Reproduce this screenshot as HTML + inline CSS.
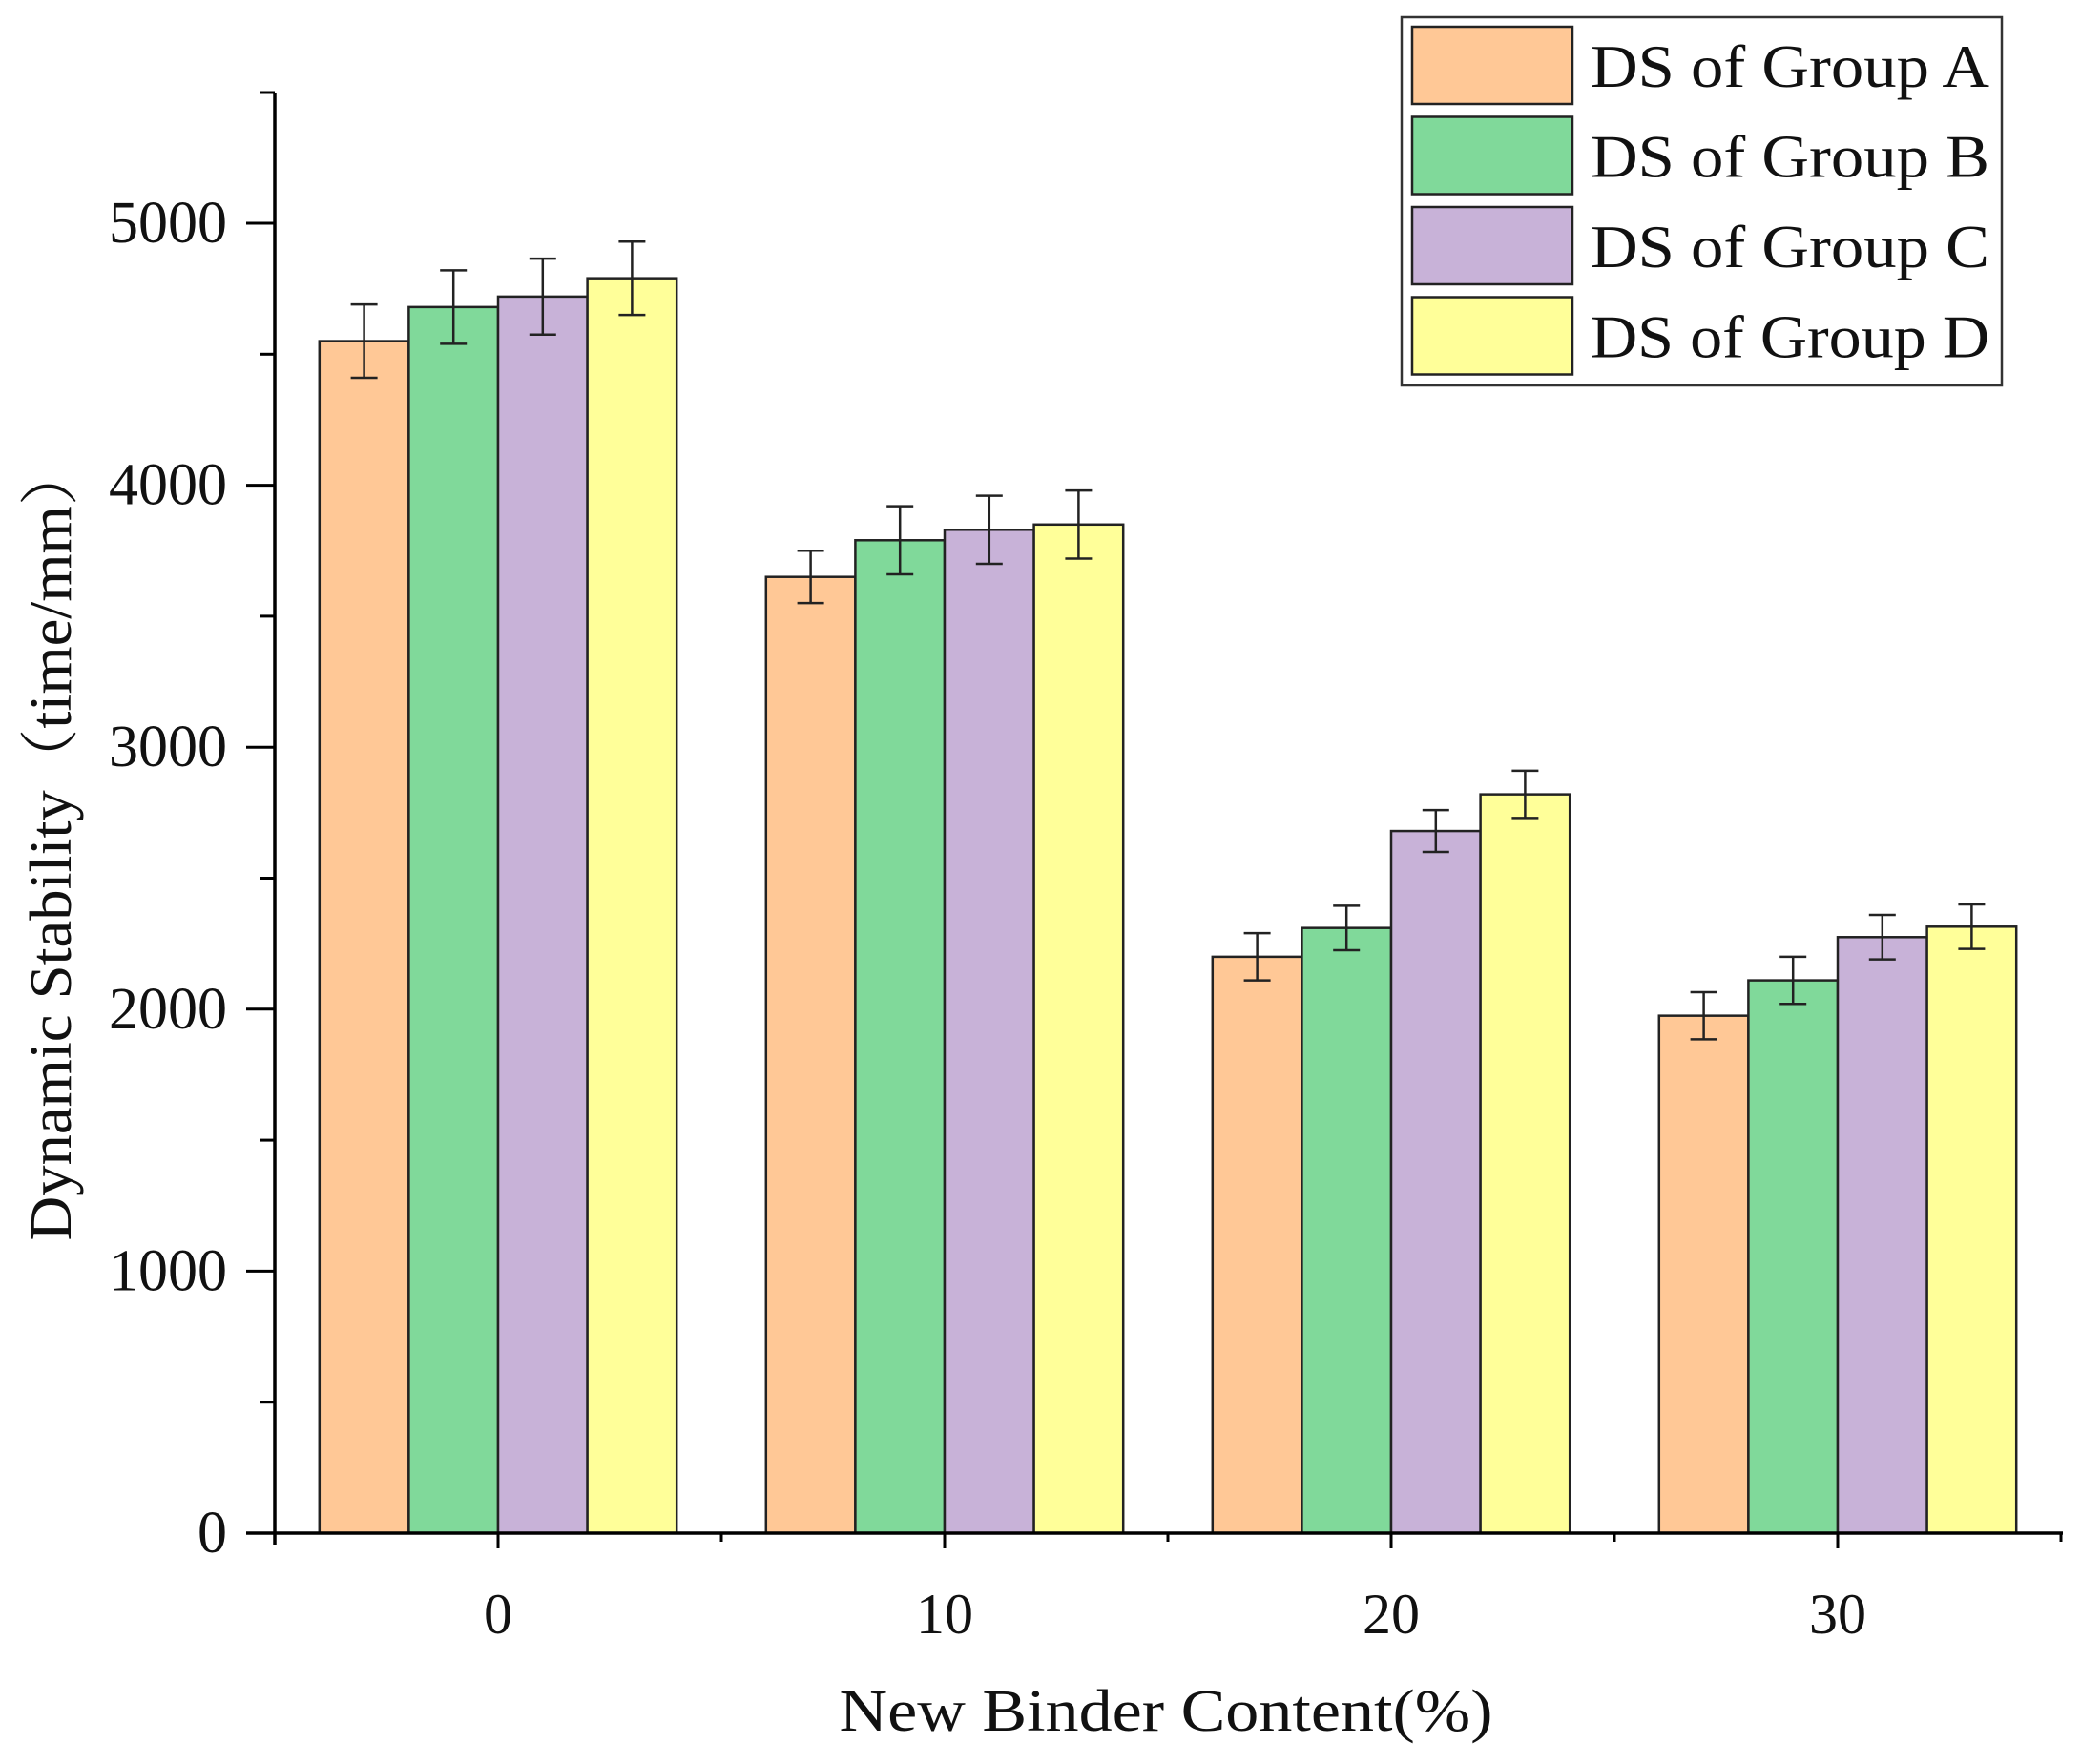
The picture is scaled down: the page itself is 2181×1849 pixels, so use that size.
<!DOCTYPE html>
<html><head><meta charset="utf-8"><style>
html,body{margin:0;padding:0;background:#fff;}
svg{display:block;font-family:"Liberation Serif",serif;}
</style></head><body>
<svg id="chart" width="2181" height="1849" viewBox="0 0 2181 1849" xmlns="http://www.w3.org/2000/svg">
<g id="bars"></g>
<g id="axes"></g>
<g id="legend"></g>
</svg>
<script>
const categories = ["0","10","20","30"];
const seriesNames = ["DS of Group A","DS of Group B","DS of Group C","DS of Group D"];
const seriesA = [4550, 3650, 2200, 1975];
const seriesB = [4680, 3790, 2310, 2110];
const seriesC = [4720, 3830, 2680, 2275];
const seriesD = [4790, 3850, 2820, 2315];
const errA = [140, 100, 90, 90];
const errB = [140, 130, 85, 90];
const errC = [145, 130, 80, 85];
const errD = [140, 130, 90, 85];
const yTicks = [0, 1000, 2000, 3000, 4000, 5000];
const colors = ["#FFC896", "#80D99A", "#C8B2D8", "#FFFF99"];

const NS = "http://www.w3.org/2000/svg";
const series = [seriesA, seriesB, seriesC, seriesD];
const errs = [errA, errB, errC, errD];
const X0 = 288, X1 = 2162, Y0 = 1607, YTOP = 97;
const yScale = v => Y0 - v * 0.2746;
const catStep = 468;
const xCat = i => 522 + i * catStep;
const barW = catStep * 0.8 / 4;

function mk(tag, attrs, parent) {
  const e = document.createElementNS(NS, tag);
  for (const k in attrs) e.setAttribute(k, attrs[k]);
  parent.appendChild(e);
  return e;
}
const gb = document.getElementById('bars');
const ga = document.getElementById('axes');
const gl = document.getElementById('legend');

categories.forEach((c, i) => {
  series.forEach((s, j) => {
    const x = xCat(i) - 2 * barW + j * barW;
    const y = yScale(s[i]);
    const r = mk('rect', {x: x, y: y, width: barW, height: Y0 - y, fill: colors[j], stroke: '#222', 'stroke-width': 2.5}, gb);
    
    
  });
  series.forEach((s, j) => {
    const cx = xCat(i) - 2 * barW + (j + 0.5) * barW;
    const yt = yScale(s[i] + errs[j][i]), yb = yScale(s[i] - errs[j][i]);
    const g = mk('g', {stroke: '#222', 'stroke-width': 2.5, fill: 'none'}, gb);
    
    
    mk('line', {x1: cx, x2: cx, y1: yt, y2: yb}, g);
    mk('line', {x1: cx - 14, x2: cx + 14, y1: yt, y2: yt}, g);
    mk('line', {x1: cx - 14, x2: cx + 14, y1: yb, y2: yb}, g);
  });
});

const yAxis = mk('line', {x1: X0, x2: X0, y1: YTOP, y2: Y0 + 12, stroke: '#000', 'stroke-width': 3.5}, ga);


const xAxis = mk('line', {x1: X0 - 30, x2: X1, y1: Y0, y2: Y0, stroke: '#000', 'stroke-width': 3.5}, ga);


mk('line', {x1: X0 - 15, x2: X0, y1: YTOP, y2: YTOP, stroke: '#000', 'stroke-width': 3}, ga);
for (let v = 500; v <= 5000; v += 1000) {
  mk('line', {x1: X0 - 15, x2: X0, y1: yScale(v), y2: yScale(v), stroke: '#000', 'stroke-width': 3}, ga);
}
yTicks.forEach(v => {
  mk('line', {x1: X0 - 30, x2: X0, y1: yScale(v), y2: yScale(v), stroke: '#000', 'stroke-width': 3}, ga);
  const t = mk('text', {x: 238, y: yScale(v) + 20, 'text-anchor': 'end', 'font-size': 62, fill: '#111'}, ga);
  t.textContent = v;
  
  
});
categories.forEach((c, i) => {
  mk('line', {x1: xCat(i), x2: xCat(i), y1: Y0, y2: Y0 + 16, stroke: '#000', 'stroke-width': 3}, ga);
  const t = mk('text', {x: xCat(i), y: 1712, 'text-anchor': 'middle', 'font-size': 60, fill: '#111'}, ga);
  t.textContent = c;
  
  
});
for (let i = -1; i < categories.length; i++) {
  const x = xCat(i) + catStep / 2;
  mk('line', {x1: x, x2: x, y1: Y0, y2: Y0 + 9, stroke: '#000', 'stroke-width': 3}, ga);
}
const xt = mk('text', {x: 1222, y: 1814, 'text-anchor': 'middle', 'font-size': 62, fill: '#111', textLength: 685, lengthAdjust: 'spacingAndGlyphs'}, ga);
xt.textContent = 'New Binder Content(%)';


const yt = mk('text', {x: 0, y: 0, 'text-anchor': 'middle', 'font-size': 62, fill: '#111', textLength: 835, lengthAdjust: 'spacingAndGlyphs', transform: 'translate(74,883) rotate(-90)'}, ga);
yt.textContent = 'Dynamic Stability（time/mm）';
yt.setAttribute('font-family', '"Liberation Serif","Noto Serif CJK SC",serif');



const box = mk('rect', {x: 1469, y: 18, width: 629, height: 386, fill: '#fff', stroke: '#333', 'stroke-width': 2.5}, gl);


seriesNames.forEach((n, j) => {
  const y = 28 + j * 94.5;
  const g = mk('g', {}, gl);
  
  
  mk('rect', {x: 1480, y: y, width: 168, height: 81, fill: colors[j], stroke: '#222', 'stroke-width': 2.5}, g);
  const t = mk('text', {x: 1667, y: y + 63, 'font-size': 64, fill: '#111', textLength: 418, lengthAdjust: 'spacingAndGlyphs'}, g);
  t.textContent = n;
});
</script>
</body></html>
